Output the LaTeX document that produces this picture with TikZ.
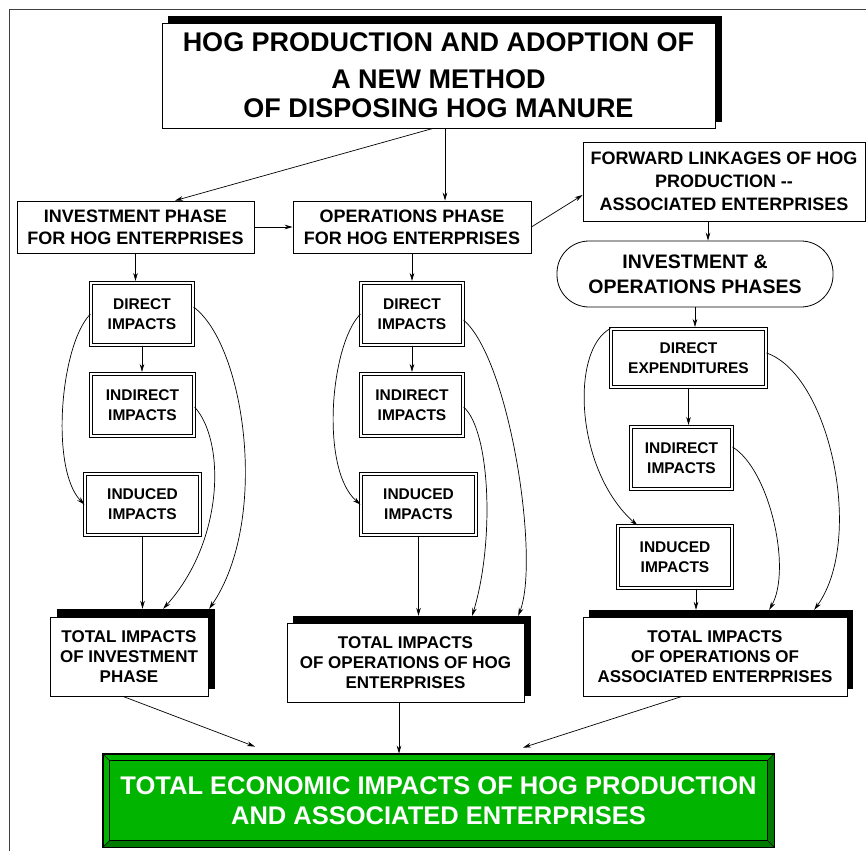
\documentclass[tikz,border=0pt]{standalone}
\usepackage{fontspec}
\setmainfont{Liberation Sans}
\usetikzlibrary{arrows.meta,calc}
\definecolor{gface}{RGB}{0,180,0}
\definecolor{gdark}{RGB}{0,122,0}
\newcommand\fsTitle{\fontsize{27}{29}\selectfont}
\newcommand\fsPhase{\fontsize{18}{22}\selectfont}
\newcommand\fsFwd{\fontsize{18}{23}\selectfont}
\newcommand\fsIO{\fontsize{19.5}{25}\selectfont}
\newcommand\fsSmall{\fontsize{15.5}{20}\selectfont}
\newcommand\fsTot{\fontsize{17}{20}\selectfont}
\newcommand\fsGreen{\fontsize{25.5}{30}\selectfont}
\begin{document}
\begin{tikzpicture}[x=1pt,y=-1pt,
  base/.style={inner sep=0pt, align=center},
  pbox/.style={base, draw, line width=0.8pt, fill=white},
  dbox/.style={base, draw, double, double distance=2.2pt, line width=0.7pt, fill=white, font=\bfseries\fsSmall},
  shad/.style={fill=black, inner sep=0pt},
  arr/.style={line width=0.7pt, -{Stealth[length=8pt,width=4.6pt]}}]
\useasboundingbox (0,0) rectangle (866,850);
\clip (0,0) rectangle (866,850);
% outer frame
\draw[line width=1pt, black!75] (9.5,9.5) rectangle (900,900);

% title
\node[shad, minimum width=554pt, minimum height=106pt] (ts) at (445,69) {};
\node[pbox, minimum width=553pt, minimum height=105pt, font=\bfseries\fsTitle] (title) at (438.5,75.5)
  {HOG PRODUCTION AND ADOPTION OF\\[8pt]A NEW METHOD\\OF DISPOSING HOG MANURE};

% phase boxes
\node[pbox, minimum width=237pt, minimum height=52pt, font=\bfseries\fsPhase] (inv) at (135.5,227)
  {INVESTMENT PHASE\\FOR HOG ENTERPRISES};
\node[pbox, minimum width=238pt, minimum height=52pt, font=\bfseries\fsPhase] (ops) at (412,227)
  {OPERATIONS PHASE\\FOR HOG ENTERPRISES};
\node[pbox, minimum width=282pt, minimum height=79pt, font=\bfseries\fsFwd] (fwd) at (724,181.5)
  {FORWARD LINKAGES OF HOG\\PRODUCTION -{}-\\ASSOCIATED ENTERPRISES};
\node[pbox, rounded corners=32pt, minimum width=276pt, minimum height=66pt, font=\bfseries\fsIO] (phases) at (695,274)
  {INVESTMENT \&\\OPERATIONS PHASES};

% small double boxes
\node[dbox, minimum width=102.4pt, minimum height=62.4pt] (d1) at (142,314) {DIRECT\\IMPACTS};
\node[dbox, minimum width=103.4pt, minimum height=62.4pt] (i1) at (142.5,405) {INDIRECT\\IMPACTS};
\node[dbox, minimum width=115.4pt, minimum height=61.4pt] (n1) at (142.5,504.5) {INDUCED\\IMPACTS};
\node[dbox, minimum width=102.4pt, minimum height=62.4pt] (d2) at (412,314) {DIRECT\\IMPACTS};
\node[dbox, minimum width=102.4pt, minimum height=62.4pt] (i2) at (412,405) {INDIRECT\\IMPACTS};
\node[dbox, minimum width=115.4pt, minimum height=61.4pt] (n2) at (418.5,504.5) {INDUCED\\IMPACTS};
\node[dbox, minimum width=155.4pt, minimum height=58.4pt] (d3) at (688.5,358) {DIRECT\\EXPENDITURES};
\node[dbox, minimum width=101.4pt, minimum height=62.4pt] (i3) at (681.5,458) {INDIRECT\\IMPACTS};
\node[dbox, minimum width=114.4pt, minimum height=62.4pt] (n3) at (675,557) {INDUCED\\IMPACTS};

% total boxes with shadows
\node[shad, minimum width=158pt, minimum height=80pt] (s1) at (136,649) {};
\node[pbox, minimum width=158pt, minimum height=79pt, font=\bfseries\fsTot] (t1) at (129,656.5)
  {TOTAL IMPACTS\\OF INVESTMENT\\PHASE};
\node[shad, minimum width=238pt, minimum height=80pt] (s2) at (412,656) {};
\node[pbox, minimum width=237pt, minimum height=79pt, font=\bfseries\fsTot] (t2) at (405.5,662.5)
  {TOTAL IMPACTS\\OF OPERATIONS OF HOG\\ENTERPRISES};
\node[shad, minimum width=264pt, minimum height=79pt] (s3) at (721,649.5) {};
\node[pbox, minimum width=264pt, minimum height=79pt, font=\bfseries\fsTot] (t3) at (715,656.5)
  {TOTAL IMPACTS\\OF OPERATIONS OF\\ASSOCIATED ENTERPRISES};

% green final box
\node[base, draw, line width=0.8pt, fill=gface, minimum width=671pt, minimum height=93pt] (green) at (438.5,800.5) {};
\fill[gdark] (green.south west) -- (green.south east) -- ([shift={(-7pt,7pt)}]green.south east)
  -- ([shift={(7pt,7pt)}]green.south west) -- cycle;
\fill[gdark] (green.north east) -- (green.south east) -- ([shift={(-7pt,7pt)}]green.south east)
  -- ([shift={(-7pt,-7pt)}]green.north east) -- cycle;
\draw[line width=0.8pt] (green.south west) rectangle (green.north east);
\draw[line width=0.8pt] ([shift={(7pt,7pt)}]green.south west) rectangle ([shift={(-7pt,-7pt)}]green.north east);
\draw[line width=0.6pt] (green.south west) -- ([shift={(7pt,7pt)}]green.south west);
\draw[line width=0.6pt] (green.north west) -- ([shift={(7pt,-7pt)}]green.north west);
\draw[line width=0.6pt] (green.south east) -- ([shift={(-7pt,7pt)}]green.south east);
\draw[line width=0.6pt] (green.north east) -- ([shift={(-7pt,-7pt)}]green.north east);
\node[base, text=white, font=\bfseries\fsGreen] (gtext) at (green.center)
  {TOTAL ECONOMIC IMPACTS OF HOG PRODUCTION\\AND ASSOCIATED ENTERPRISES};

% straight connectors
\draw[arr] ([xshift=-5.5pt]title.south) -- ([xshift=39.5pt]inv.north);
\draw[arr] ([xshift=6.5pt]title.south) -- ([xshift=6.5pt]title.south |- ops.north);
\draw[arr] (inv.east) -- (ops.west);
\draw[arr] (ops.east) -- ([yshift=-13.5pt]fwd.west);
\draw[arr] ([xshift=-16pt]fwd.south) -- ([xshift=-16pt]fwd.south |- phases.north);
\draw[arr] (phases.south) -- ([yshift=1.5pt]phases.south |- d3.north);
\draw[arr] (inv.south) -- ([yshift=1.5pt]inv.south |- d1.north);
\draw[arr] (d1.south) -- ([yshift=1.5pt]d1.south |- i1.north);
\draw[arr] (n1.south) -- (n1.south |- s1.north);
\draw[arr] (ops.south) -- ([yshift=1.5pt]ops.south |- d2.north);
\draw[arr] (d2.south) -- ([yshift=1.5pt]d2.south |- i2.north);
\draw[arr] (n2.south) -- (n2.south |- s2.north);
\draw[arr] (d3.south) -- ([yshift=1.5pt]d3.south |- i3.north);
\draw[arr] ([xshift=21pt]n3.south) -- ([xshift=21pt]n3.south |- s3.north);

% curved connectors
\draw[arr] (d1.west) .. controls (60,345) and (50,470) .. (n1.west);
\draw[arr] ([yshift=7pt]d1.east) .. controls (245,345) and (270,520) .. ([xshift=-6pt]s1.north east);
\draw[arr] ([yshift=-2pt]i1.east) .. controls (225,440) and (225,540) .. ([xshift=-52pt]s1.north east);
\draw[arr] (d2.west) .. controls (330,345) and (320,470) .. (n2.west);
\draw[arr] ([yshift=-6pt]d2.east) .. controls (510,360) and (540,560) .. ([xshift=-13pt]s2.north east);
\draw[arr] ([yshift=-2pt]i2.east) .. controls (490,430) and (495,540) .. ([xshift=-59pt]s2.north east);
\draw[arr] (d3.north west) .. controls (570,350) and (575,470) .. ([xshift=20pt]n3.north west);
\draw[arr] ([yshift=5pt]d3.east) .. controls (830,375) and (865,540) .. ([xshift=-39pt]s3.north east);
\draw[arr] ([yshift=11pt]i3.east) .. controls (770,470) and (792,570) .. ([xshift=-84pt]s3.north east);

% to the final box
\draw[arr] ([xshift=-6pt]t1.south) -- ([xshift=-183.5pt,yshift=7pt]green.north);
\draw[arr] ([xshift=-6.5pt]t2.south) -- ([xshift=-6.5pt]t2.south |- green.north);
\draw[arr] ([xshift=-33pt]t3.south) -- ([xshift=84.5pt,yshift=6pt]green.north);
\end{tikzpicture}
\end{document}
